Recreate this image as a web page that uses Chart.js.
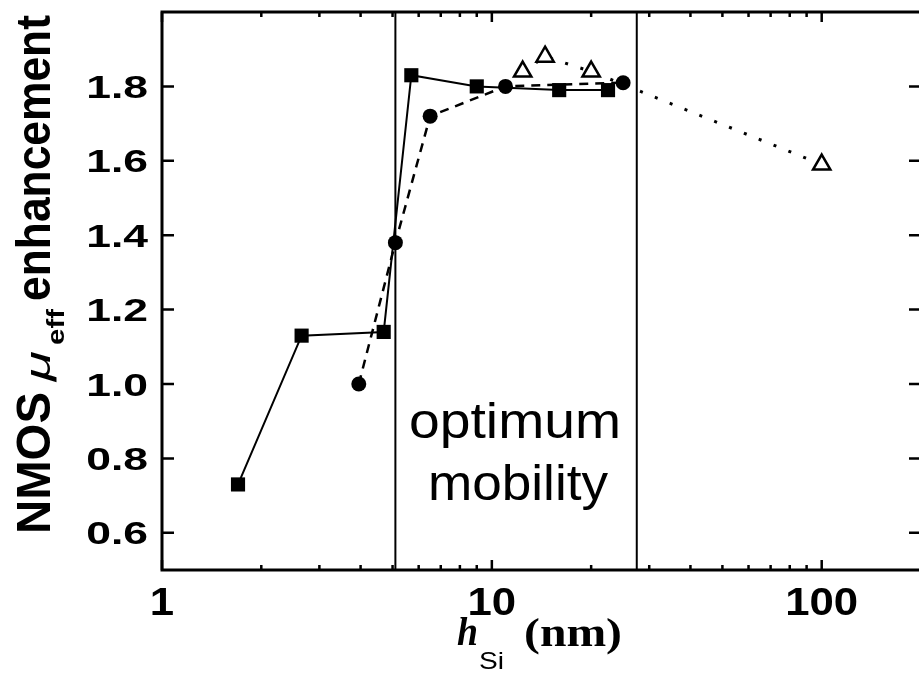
<!DOCTYPE html>
<html>
<head>
<meta charset="utf-8">
<script src="https://cdn.jsdelivr.net/npm/chart.js@4"></script>
<style>
  html, body { margin: 0; padding: 0; background: #fff; overflow: hidden; }
  #wrap { width: 919px; height: 675px; overflow: hidden; }
  canvas { display: block; }
</style>
</head>
<body>
<div id="wrap"><canvas id="mobility" width="924" height="675"></canvas></div>
<script>
// ===== DATA =====
// strained-Si film thickness (nm) vs NMOS effective mobility enhancement
const hSiSquares = [1.7, 2.65, 4.7, 5.7, 9, 16, 22.5];
const muSquares = [0.73, 1.13, 1.14, 1.83, 1.80, 1.79, 1.79];

const hSiCircles = [3.95, 5.1, 6.5, 11, 25];
const muCircles = [1.00, 1.38, 1.72, 1.80, 1.81];

const hSiTriangles = [12.4, 14.5, 20, 100];
const muTriangles = [1.84, 1.88, 1.84, 1.59];

// edges of the optimum-mobility window (nm)
const windowEdges = [5.1, 27.5];

const xTickValues = [1, 10, 100];
const xTickLabels = ['1', '10', '100'];
const yTickValues = [0.6, 0.8, 1.0, 1.2, 1.4, 1.6, 1.8];
const yTickLabels = ['0.6', '0.8', '1.0', '1.2', '1.4', '1.6', '1.8'];

const X_MIN = 1, X_MAX = 200, Y_MIN = 0.5, Y_MAX = 2.0;

const pts = (xs, ys) => xs.map((x, i) => ({ x, y: ys[i] }));

// ===== TEXT HELPERS =====
function stretchText(ctx, str, x, y, font, sx, align) {
    ctx.save();
    ctx.font = font;
    ctx.translate(x, y);
    ctx.scale(sx, 1);
    ctx.textAlign = align || 'left';
    ctx.textBaseline = 'alphabetic';
    ctx.fillText(str, 0, 0);
    ctx.restore();
}

function fitText(ctx, str, x, y, font, width, align) {
    ctx.save();
    ctx.font = font;
    const sx = width / ctx.measureText(str).width;
    ctx.restore();
    stretchText(ctx, str, x, y, font, sx, align);
}

// ===== FRAME, TICKS, LABELS =====
const framePlugin = {
    id: 'frame',
    afterDraw(chart) {
        const { ctx, chartArea: a, scales: { x, y } } = chart;
        ctx.save();
        ctx.strokeStyle = '#000';
        ctx.fillStyle = '#000';

        // box
        ctx.lineWidth = 3;
        ctx.strokeRect(a.left, a.top, a.right - a.left, a.bottom - a.top);

        // x ticks, inward on bottom and top
        ctx.lineWidth = 2.5;
        const minor = [];
        for (let d = 1; d < X_MAX; d *= 10) {
            for (let k = 2; k <= 9; k++) if (d * k < X_MAX) minor.push(d * k);
        }
        ctx.beginPath();
        minor.forEach(v => {
            const px = x.getPixelForValue(v);
            ctx.moveTo(px, a.bottom); ctx.lineTo(px, a.bottom - 5);
            ctx.moveTo(px, a.top); ctx.lineTo(px, a.top + 5);
        });
        xTickValues.forEach(v => {
            const px = x.getPixelForValue(v);
            ctx.moveTo(px, a.bottom); ctx.lineTo(px, a.bottom - 10);
            ctx.moveTo(px, a.top); ctx.lineTo(px, a.top + 10);
        });
        // y ticks, inward on left and right
        yTickValues.forEach(v => {
            const py = y.getPixelForValue(v);
            ctx.moveTo(a.left, py); ctx.lineTo(a.left + 12, py);
            ctx.moveTo(a.right, py); ctx.lineTo(a.right - 12, py);
        });
        ctx.stroke();

        // tick labels
        yTickValues.forEach((v, i) => {
            const py = y.getPixelForValue(v);
            stretchText(ctx, yTickLabels[i], 148, py + 11.5, 'bold 32px "Liberation Sans"', 1.39, 'right');
        });
        xTickValues.forEach((v, i) => {
            const px = x.getPixelForValue(v);
            stretchText(ctx, xTickLabels[i], px, 615, 'bold 38px "Liberation Sans"', 1.15, 'center');
        });

        // x axis title: h_Si (nm)
        fitText(ctx, 'h', 457, 645, 'bold italic 40px "Liberation Serif"', 21, 'left');
        fitText(ctx, 'Si', 479, 669, '24px "Liberation Sans"', 25, 'left');
        fitText(ctx, '(nm)', 524, 646, 'bold 40px "Liberation Serif"', 98, 'left');

        // y axis title, rotated: NMOS mu_eff enhancement
        ctx.save();
        ctx.translate(50, 534);
        ctx.rotate(-Math.PI / 2);
        ctx.scale(1, 1.06);
        fitText(ctx, 'NMOS', 0, 0, 'bold 46px "Liberation Sans"', 142, 'left');
        fitText(ctx, 'μ', 153, 0, 'italic 34px "Liberation Sans"', 30, 'left');
        fitText(ctx, 'eff', 189, 13, 'bold 22px "Liberation Sans"', 36, 'left');
        fitText(ctx, 'enhancement', 233, 0, 'bold 46px "Liberation Sans"', 286, 'left');
        ctx.restore();

        // window annotation
        fitText(ctx, 'optimum', 515, 438, '50px "Liberation Sans"', 212, 'center');
        fitText(ctx, 'mobility', 518, 500, '50px "Liberation Sans"', 180, 'center');

        ctx.restore();
    }
};

// ===== CHART =====
const windowLines = windowEdges.map(e => ({
    data: [{ x: e, y: Y_MIN }, { x: e, y: Y_MAX }],
    showLine: true,
    borderColor: '#000',
    borderWidth: 2,
    pointRadius: 0,
    order: 4
}));

new Chart(document.getElementById('mobility').getContext('2d'), {
    type: 'scatter',
    data: {
        datasets: [
            {
                label: 'squares',
                data: pts(hSiSquares, muSquares),
                showLine: true,
                borderColor: '#000',
                borderWidth: 2,
                pointStyle: 'rect',
                pointRadius: 10,
                pointBackgroundColor: '#000',
                pointBorderColor: '#000',
                pointBorderWidth: 0,
                order: 1
            },
            {
                label: 'circles',
                data: pts(hSiCircles, muCircles),
                showLine: true,
                borderColor: '#000',
                borderWidth: 2.5,
                borderDash: [9, 7],
                pointStyle: 'circle',
                pointRadius: 7.5,
                pointBackgroundColor: '#000',
                pointBorderColor: '#000',
                pointBorderWidth: 0,
                order: 2
            },
            {
                label: 'triangles',
                data: pts(hSiTriangles, muTriangles),
                showLine: true,
                borderColor: '#000',
                borderWidth: 3,
                borderDash: [3, 13],
                pointStyle: 'triangle',
                pointRadius: 10,
                pointBackgroundColor: '#fff',
                pointBorderColor: '#000',
                pointBorderWidth: 2.5,
                order: 3
            },
            ...windowLines
        ]
    },
    options: {
        responsive: false,
        animation: false,
        devicePixelRatio: 1,
        layout: { autoPadding: false, padding: { left: 162, right: 3, top: 12, bottom: 105 } },
        plugins: { legend: { display: false }, tooltip: { enabled: false } },
        scales: {
            x: { type: 'logarithmic', min: X_MIN, max: X_MAX, display: false },
            y: { type: 'linear', min: Y_MIN, max: Y_MAX, display: false }
        }
    },
    plugins: [framePlugin]
});
</script>
</body>
</html>
